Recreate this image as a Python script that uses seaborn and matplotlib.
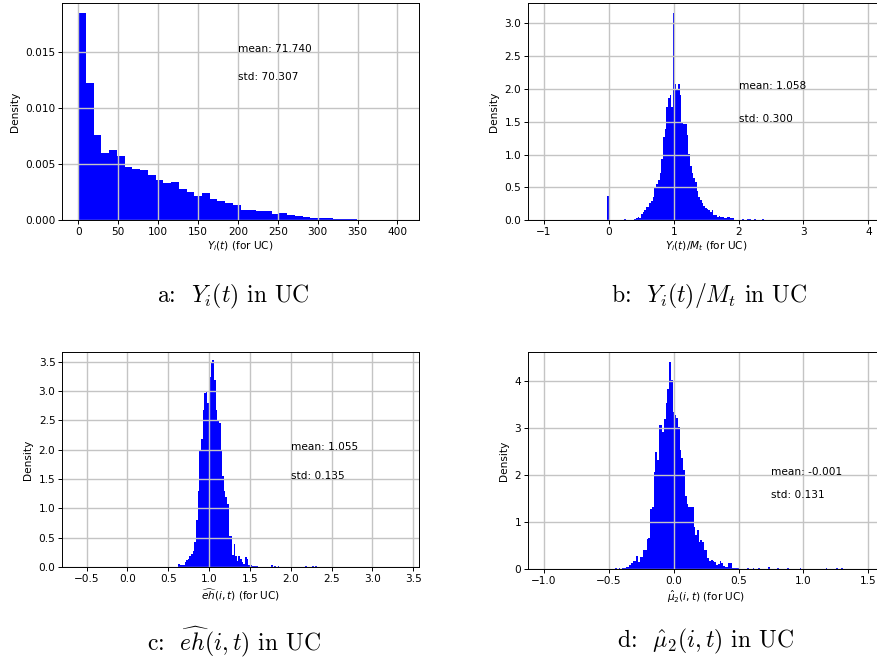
import numpy as np
import pandas as pd
import matplotlib
matplotlib.use("Agg")
import matplotlib.pyplot as plt
import seaborn as sns

# ---------------- data ----------------
# Panel a: Y_i(t)
a_start, a_width = 0.0, 407.0 / 42
a_density = [0.0185, 0.0123, 0.0076, 0.0060, 0.0063, 0.0057, 0.0048, 0.0046, 0.0045, 0.0040,
             0.0036, 0.0033, 0.0034, 0.0028, 0.0025, 0.0022, 0.0024, 0.0019, 0.0017, 0.00155,
             0.00137, 0.00092, 0.00092, 0.00086, 0.00086, 0.00060, 0.00068, 0.00048, 0.00042, 0.00033,
             0.00024, 0.00024, 0.00024, 0.00015, 0.00015, 0.00015, 0.00006, 0.00006, 0.00006, 0.00006,
             0.00006, 0.00006]

# Panel b: Y_i(t)/M_t
b_start, b_width = -0.024, 0.026
b_density = [0.37, 0, 0, 0, 0, 0, 0, 0, 0, 0,
             0.02, 0, 0, 0, 0, 0.01, 0.02, 0.03, 0.045, 0.035,
             0.10, 0.12, 0.15, 0.20, 0.20, 0.27, 0.30, 0.36, 0.51, 0.55,
             0.61, 0.72, 0.93, 1.27, 1.39, 1.73, 1.86, 1.91, 1.73, 3.15,
             2.08, 1.98, 2.08, 1.91, 1.50, 1.46, 1.46, 1.30, 1.01, 0.83,
             0.72, 0.64, 0.58, 0.45, 0.36, 0.31, 0.26, 0.22, 0.18, 0.17,
             0.15, 0.12, 0.15, 0.08, 0.08, 0.055, 0.06, 0.045, 0.045, 0.03,
             0.03, 0.045, 0.045, 0.03, 0.03, 0.01, 0, 0, 0.045, 0,
             0.02, 0, 0, 0.02, 0.02, 0, 0, 0.02, 0, 0,
             0, 0, 0.02]

# Panel c: eh_hat(i,t)
c_start, c_width = 0.62, 0.02
c_density = [0.045, 0.03, 0.03, 0.03, 0.08, 0.12, 0.14, 0.19, 0.22, 0.27,
             0.43, 0.80, 1.30, 1.99, 2.19, 2.68, 2.96, 2.99, 2.79, 3.24,
             3.47, 3.53, 3.19, 2.68, 2.50, 2.45, 1.97, 1.55, 1.30, 1.20,
             1.08, 0.52, 0.52, 0.20, 0.39, 0.19, 0.11, 0.19, 0.14, 0.09,
             0.045, 0.17, 0.14, 0.03, 0.03, 0.02, 0.02, 0.02, 0.02, 0,
             0, 0, 0, 0, 0, 0, 0, 0.035, 0, 0.02,
             0, 0.02, 0, 0, 0, 0, 0, 0, 0, 0,
             0, 0, 0, 0, 0, 0, 0, 0, 0.02, 0,
             0, 0, 0.02, 0, 0.02, 0]

# Panel d: mu2_hat(i,t)
d_start, d_width = -0.45, 0.0134
d_density = [0.03, 0, 0.015, 0, 0.015, 0.03, 0.035, 0.045, 0.08, 0.12,
             0.16, 0.17, 0.28, 0.14, 0.25, 0.25, 0.40, 0.40, 0.63, 0.65,
             1.27, 1.32, 2.05, 2.49, 2.31, 3.06, 3.06, 2.90, 3.18, 3.52,
             3.82, 4.40, 4.01, 3.34, 3.27, 3.20, 3.01, 2.53, 2.35, 2.10,
             1.54, 1.39, 1.32, 1.32, 1.31, 0.90, 0.72, 0.83, 0.58, 0.62,
             0.58, 0.40, 0.40, 0.23, 0.16, 0.19, 0.17, 0.14, 0.085, 0.10,
             0.17, 0.12, 0.07, 0.05, 0.05, 0.13, 0.13, 0.02, 0.02, 0.02,
             0.02, 0, 0, 0, 0, 0, 0.015, 0, 0, 0.015,
             0, 0, 0.015, 0, 0, 0, 0, 0, 0.04, 0,
             0, 0, 0, 0.015, 0, 0, 0, 0, 0, 0.015,
             0, 0, 0, 0, 0, 0, 0.015, 0, 0, 0,
             0, 0, 0, 0, 0, 0, 0, 0, 0, 0,
             0, 0.015, 0, 0, 0, 0, 0, 0.015, 0, 0,
             0.015]

stats_text = [("mean: 71.740", "std: 70.307"),
              ("mean: 1.058", "std: 0.300"),
              ("mean: 1.055", "std: 0.135"),
              ("mean: -0.001", "std: 0.131")]
xlabels = [r"$Y_i(t)$ (for UC)", r"$Y_i(t)/M_t$ (for UC)",
           r"$\widehat{eh}(i,t)$ (for UC)", r"$\hat{\mu}_2(i,t)$ (for UC)"]
captions = [r"a:  $Y_i(t)$ in UC", r"b:  $Y_i(t)/M_t$ in UC",
            r"c:  $\widehat{eh}(i,t)$ in UC", r"d:  $\hat{\mu}_2(i,t)$ in UC"]

# ---------------- styling ----------------
FS = 7.6
plt.rcParams.update({
    "font.family": ["DejaVu Sans"],
    "font.size": FS,
    "axes.linewidth": 0.7,
    "xtick.major.size": 2.7,
    "ytick.major.size": 2.7,
    "xtick.major.width": 0.7,
    "ytick.major.width": 0.7,
    "grid.color": "#c4c4c4",
    "grid.linewidth": 1.0,
})

fig = plt.figure(figsize=(8.78, 6.65), dpi=100)
W, H = 878.0, 665.0

def axes_px(left, top, right, bottom):
    return fig.add_axes([left / W, 1 - bottom / H, (right - left) / W, (bottom - top) / H])

ax_a = axes_px(62, 3.3, 419.3, 220.3)
ax_b = axes_px(527.7, 3.3, 884.5, 220.3)
ax_c = axes_px(62, 351.7, 419.3, 567)
ax_d = axes_px(527.7, 351.7, 884.5, 569)

panels = [
    (ax_a, a_start, a_width, a_density, (-20.35, 427.35), 0.01937, np.arange(0, 401, 50), (200, 0.015, 0.0125)),
    (ax_b, b_start, b_width, b_density, (-1.25, 4.25), 3.30, np.arange(-1, 5, 1), (2.0, 2.0, 1.5)),
    (ax_c, c_start, c_width, c_density, (-0.80, 3.573), 3.67, np.arange(-0.5, 3.51, 0.5), (2.0, 2.0, 1.5)),
    (ax_d, d_start, d_width, d_density, (-1.125, 1.625), 4.615, np.arange(-1.0, 1.51, 0.5), (0.75, 2.0, 1.5)),
]

for i, (ax, start, width, dens, xlim, ytop, xticks, tpos) in enumerate(panels):
    dens = np.asarray(dens, dtype=float)
    edges = start + width * np.arange(len(dens) + 1)
    centers = (edges[:-1] + edges[1:]) / 2
    df = pd.DataFrame({"x": centers, "w": dens})
    sns.histplot(data=df, x="x", weights="w", bins=[float(e) for e in edges], stat="count", ax=ax,
                 color="#0000ff", alpha=1, edgecolor="none", linewidth=0)
    ax.set_xlim(*xlim)
    ax.set_ylim(0, ytop)
    ax.set_xticks(xticks)
    ax.grid(True)
    ax.set_axisbelow("line")
    ax.set_ylabel("Density", fontsize=FS)
    ax.set_xlabel(xlabels[i], fontsize=FS, labelpad=2)
    ax.tick_params(labelsize=FS, pad=2)
    ax.text(tpos[0], tpos[1], stats_text[i][0], fontsize=FS)
    ax.text(tpos[0], tpos[2], stats_text[i][1], fontsize=FS)
    for s in ax.spines.values():
        s.set_color("black")

ax_a.set_yticks([0.0, 0.005, 0.010, 0.015])
ax_a.yaxis.set_major_formatter(matplotlib.ticker.FormatStrFormatter("%.3f"))
ax_b.set_yticks(np.arange(0, 3.01, 0.5))
ax_c.set_yticks(np.arange(0, 3.51, 0.5))
ax_d.set_yticks([0, 1, 2, 3, 4])

cap_pos = [(233, 296), (709, 296), (234, 642), (705, 641)]
for (cx, cy), cap in zip(cap_pos, captions):
    fig.text(cx / W, 1 - cy / H, cap, ha="center", va="center", fontsize=17,
             family="cmr10", math_fontfamily="cm")

fig.savefig("out.png", dpi=100)
